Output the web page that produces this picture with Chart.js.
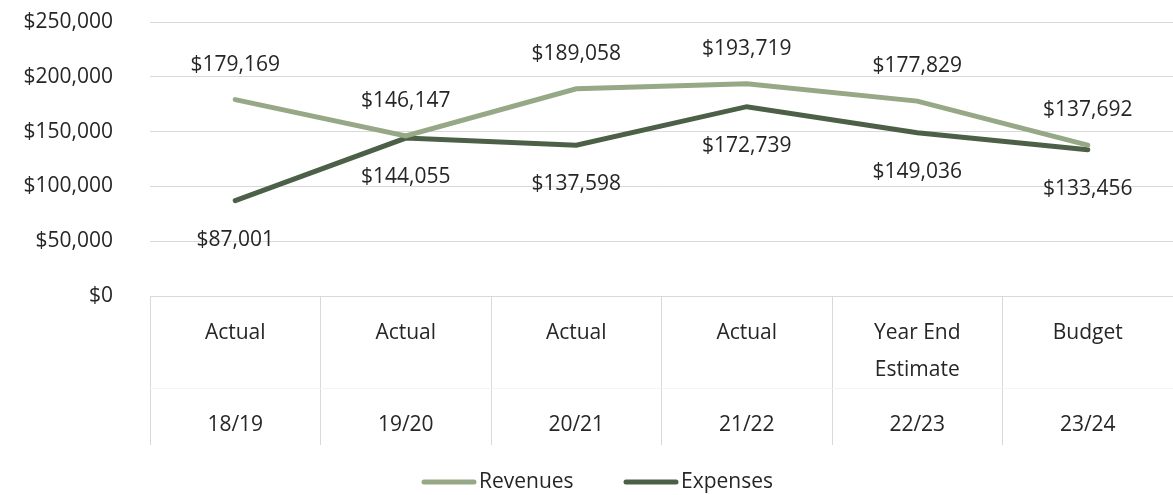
<!DOCTYPE html>
<html>
<head>
<meta charset="utf-8">
<script src="https://cdn.jsdelivr.net/npm/chart.js@4.4.1/dist/chart.umd.min.js"></script>
<style>
  body { margin: 0; background: #ffffff; }
  #trend { display: block; }
</style>
</head>
<body>
<canvas id="trend" width="1173" height="495"></canvas>
<script>
// fiscal years and what kind of figure each one is
var periods = ["18/19", "19/20", "20/21", "21/22", "22/23", "23/24"];
var groups = [["Actual"], ["Actual"], ["Actual"], ["Actual"], ["Year End", "Estimate"], ["Budget"]];

var revenues = [179169, 146147, 189058, 193719, 177829, 137692];
var expenses = [87001, 144055, 137598, 172739, 149036, 133456];

var yTicks = [0, 50000, 100000, 150000, 200000, 250000];

var fontName = "'Open Sans', 'DejaVu Sans', sans-serif";
var fontSize = 21;
var textColor = "#262626";
var gridColor = "#d9d9d9";

function money(v) {
  return "$" + v.toLocaleString("en-US");
}

// labels under the axis, value labels on the lines and the legend
var extras = {
  id: "extras",
  afterDraw: function(chart) {
    var ctx = chart.ctx;
    var xs = chart.scales.x;
    var area = chart.chartArea;
    ctx.save();
    ctx.font = fontSize + "px " + fontName;
    ctx.fillStyle = textColor;
    ctx.textAlign = "center";
    ctx.textBaseline = "middle";

    // faint line between the two rows of the category axis
    ctx.strokeStyle = "#f4f4f4";
    ctx.lineWidth = 1;
    ctx.beginPath();
    ctx.moveTo(area.left, 388.5);
    ctx.lineTo(area.right, 388.5);
    ctx.stroke();

    periods.forEach(function(p, i) {
      var x = xs.getPixelForValue(i);
      groups[i].forEach(function(line, j) {
        ctx.fillText(line, x, 333 + j * 37);
      });
      ctx.fillText(p, x, 425);
    });

    // value labels: revenues above the line, expenses below
    chart.data.datasets.forEach(function(ds, d) {
      var meta = chart.getDatasetMeta(d);
      meta.data.forEach(function(pt, i) {
        var dy = d == 0 ? -35 : 39;
        ctx.fillText(money(ds.data[i]), pt.x, pt.y + dy);
      });
    });

    // legend
    var lx = [421, 623];
    ctx.textAlign = "left";
    ctx.lineCap = "round";
    chart.data.datasets.forEach(function(ds, d) {
      ctx.strokeStyle = ds.borderColor;
      ctx.lineWidth = 5;
      ctx.beginPath();
      ctx.moveTo(lx[d] + 3, 482);
      ctx.lineTo(lx[d] + 53, 482);
      ctx.stroke();
      ctx.fillText(ds.label, lx[d] + 58, 482);
    });
    ctx.restore();
  }
};

var ctx = document.getElementById("trend");
var myChart = new Chart(ctx, {
  type: "line",
  data: {
    labels: periods,
    datasets: [{
      label: "Revenues",
      data: revenues,
      borderColor: "#97a887",
      borderWidth: 5,
      borderCapStyle: "round",
      pointRadius: 0,
      tension: 0
    }, {
      label: "Expenses",
      data: expenses,
      borderColor: "#4c6048",
      borderWidth: 5,
      borderCapStyle: "round",
      pointRadius: 0,
      tension: 0
    }]
  },
  options: {
    responsive: false,
    animation: false,
    layout: { padding: { top: 22, right: 0, bottom: 0, left: 0 } },
    plugins: {
      legend: { display: false },
      tooltip: { enabled: false }
    },
    scales: {
      x: {
        offset: true,
        ticks: { display: false },
        grid: {
          offset: true,
          drawOnChartArea: false,
          drawTicks: true,
          tickLength: 149,
          color: gridColor,
          tickColor: gridColor
        },
        border: { display: true, color: gridColor },
        afterFit: function(scale) { scale.height = 199; }
      },
      y: {
        min: 0,
        max: 250000,
        afterBuildTicks: function(scale) {
          scale.ticks = yTicks.map(function(v) { return { value: v }; });
        },
        ticks: {
          padding: 37,
          color: textColor,
          font: { family: fontName, size: fontSize },
          callback: function(v) { return money(v); }
        },
        grid: { color: gridColor, drawTicks: false },
        border: { display: false },
        afterFit: function(scale) {
          scale.width = 150;
          scale.paddingTop = 0;
          scale.paddingBottom = 0;
        }
      }
    }
  },
  plugins: [extras]
});
</script>
</body>
</html>
